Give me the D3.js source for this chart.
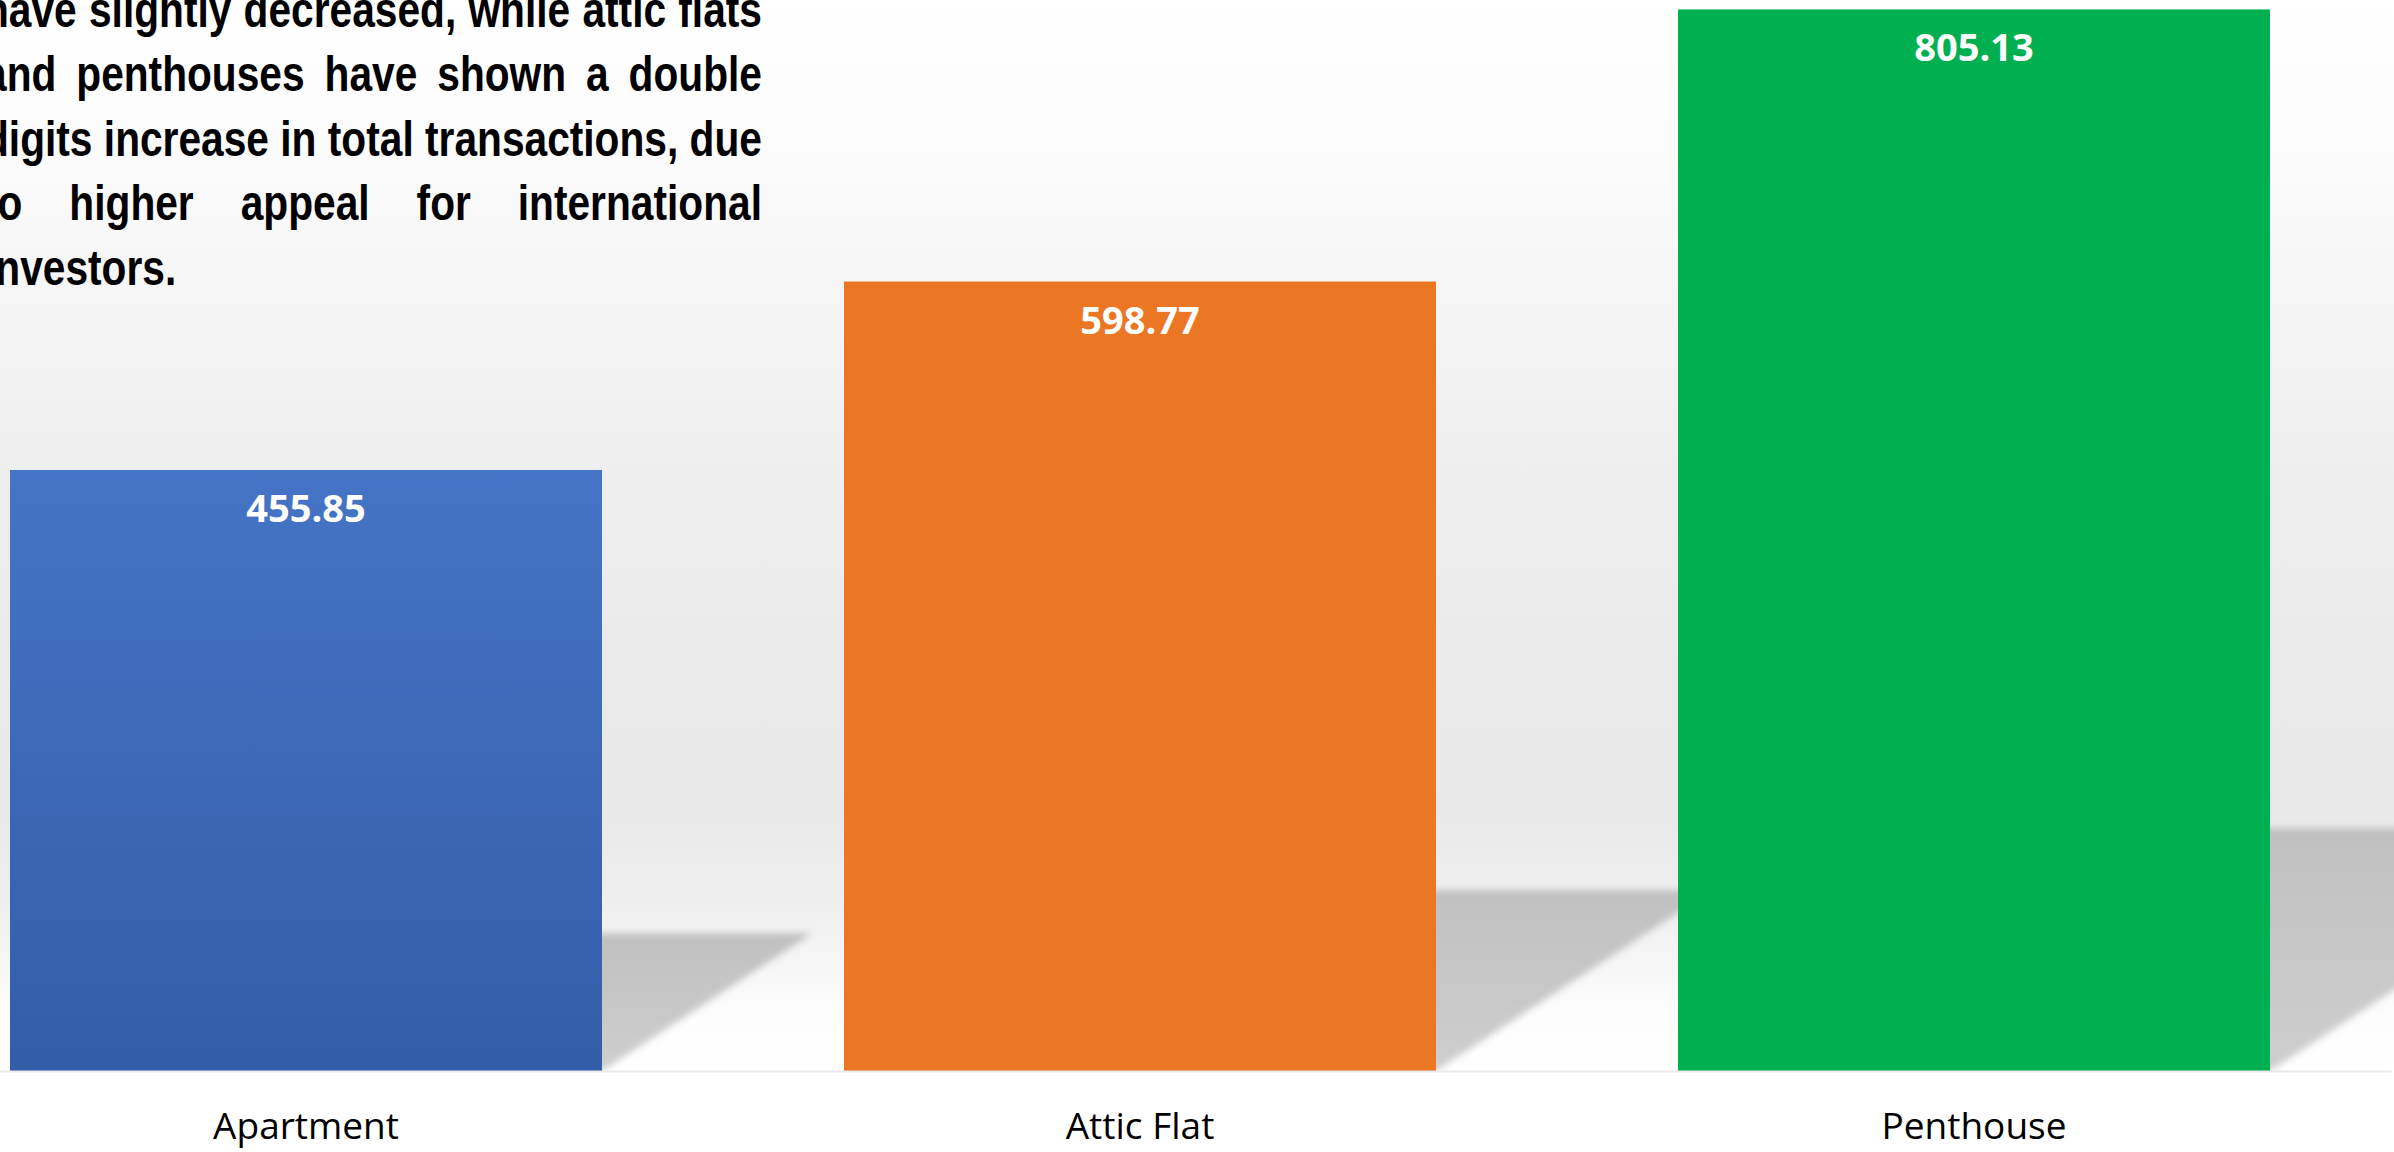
<!DOCTYPE html>
<html>
<head>
<meta charset="utf-8">
<script src="https://cdn.jsdelivr.net/npm/d3@7"></script>
<style>
  html, body { margin: 0; padding: 0; background: #ffffff; overflow: hidden; }
  svg { display: block; }
</style>
</head>
<body>
<svg id="chart" width="2394" height="1152"></svg>
<script>
// Transaction totals by property type
const categories = ["Apartment", "Attic Flat", "Penthouse"];
const values = [455.85, 598.77, 805.13];
const barColors = ["#4472C4", "#EB7623", "#00B050"];

// Commentary paragraph, one entry per printed line
const noteLines = [
  "have slightly decreased, while attic flats",
  "and penthouses have shown a double",
  "digits increase in total transactions, due",
  "to higher appeal for international",
  "investors."
];

const W = 2394, H = 1152;
const floorY = 1071;

const svg = d3.select("#chart");
const defs = svg.append("defs");

// Wall backdrop: white at the top, soft grey in the middle, fading out toward the floor
const wall = defs.append("linearGradient")
  .attr("id", "wall").attr("gradientUnits", "userSpaceOnUse")
  .attr("x1", 0).attr("y1", 0).attr("x2", 0).attr("y2", floorY);
[[0, "#ffffff"], [0.12, "#fcfcfc"], [0.28, "#f5f5f5"], [0.42, "#efefef"],
 [0.6, "#eaeaea"], [0.76, "#e9e9e9"], [0.84, "#eeeeee"], [0.9, "#f6f6f6"],
 [0.95, "#fdfdfd"], [1, "#ffffff"]]
  .forEach(([o, c]) => wall.append("stop").attr("offset", o).attr("stop-color", c));

// Blue bar fades slightly darker toward its base
const blueGrad = defs.append("linearGradient")
  .attr("id", "barGrad0").attr("x1", 0).attr("y1", 0).attr("x2", 0).attr("y2", 1);
blueGrad.append("stop").attr("offset", 0).attr("stop-color", "#4574C6");
blueGrad.append("stop").attr("offset", 1).attr("stop-color", "#335DA8");

const shadowGrad = defs.append("linearGradient")
  .attr("id", "shadowGrad").attr("x1", 0).attr("y1", 0).attr("x2", 0).attr("y2", 1);
shadowGrad.append("stop").attr("offset", 0).attr("stop-color", "#c0c0c0");
shadowGrad.append("stop").attr("offset", 1).attr("stop-color", "#cecece");

defs.append("filter").attr("id", "soft")
  .attr("x", "-20%").attr("y", "-20%").attr("width", "140%").attr("height", "140%")
  .append("feGaussianBlur").attr("stdDeviation", 3.5);

defs.append("clipPath").attr("id", "aboveFloor")
  .append("rect").attr("x", 0).attr("y", 0).attr("width", W).attr("height", floorY + 1);

svg.append("rect").attr("width", W).attr("height", H).attr("fill", "#ffffff");
svg.append("rect").attr("width", W).attr("height", floorY).attr("fill", "url(#wall)");

// Scales
const x = d3.scaleBand()
  .domain(categories)
  .range([-111, 2391])
  .paddingInner(0.2902)
  .paddingOuter(0.1451);

const y = d3.scaleLinear()
  .domain([0, 812.3])
  .range([floorY, 0]);

const data = categories.map((c, i) => ({ cat: c, value: values[i], color: barColors[i], i }));

// Perspective floor shadows cast to the right of each bar
const shadowLayer = svg.append("g").attr("clip-path", "url(#aboveFloor)");
shadowLayer.selectAll("path.shadow")
  .data(data)
  .join("path")
  .attr("class", "shadow")
  .attr("fill", "url(#shadowGrad)")
  .attr("filter", "url(#soft)")
  .attr("d", d => {
    const x0 = x(d.cat), x1 = x(d.cat) + x.bandwidth();
    const h = y(0) - y(d.value);
    const dy = 0.229 * h, dx = 0.35 * h;
    return `M${x0},${y(0)}L${x1},${y(0)}L${x1 + dx},${y(0) - dy}L${x0 + dx},${y(0) - dy}Z`;
  });

// Bars
svg.append("g").selectAll("rect.bar")
  .data(data)
  .join("rect")
  .attr("class", "bar")
  .attr("x", d => x(d.cat))
  .attr("y", d => y(d.value))
  .attr("width", x.bandwidth())
  .attr("height", d => y(0) - y(d.value))
  .attr("fill", d => d.i === 0 ? "url(#barGrad0)" : d.color);

// Value labels inside the top of each bar
svg.append("g").selectAll("text.value")
  .data(data)
  .join("text")
  .attr("class", "value")
  .attr("x", d => x(d.cat) + x.bandwidth() / 2)
  .attr("y", d => y(d.value) + 52)
  .attr("text-anchor", "middle")
  .attr("fill", "#ffffff")
  .attr("font-family", "'Open Sans', 'Noto Sans', sans-serif")
  .attr("font-weight", 700)
  .attr("font-size", 38)
  .text(d => d.value.toFixed(2));

// Category axis along the floor
const axis = svg.append("g")
  .attr("transform", `translate(0,${floorY})`)
  .call(d3.axisBottom(x).tickSize(0));
axis.select(".domain").attr("stroke", "#eaeaea").attr("stroke-width", 2);
axis.selectAll(".tick text")
  .attr("y", 68).attr("dy", 0)
  .attr("fill", "#000000")
  .attr("font-family", "'Open Sans', 'Noto Sans', sans-serif")
  .attr("font-size", 37);

// Justified commentary block in the top-left corner
const noteLeft = -16, noteRight = 762, noteTop = 27, noteLead = 64.5;
const noteFont = "'Liberation Sans Narrow', 'Arial Narrow', 'Liberation Sans', sans-serif";
const note = svg.append("g");

const probe = svg.append("text")
  .attr("font-family", noteFont).attr("font-weight", 700).attr("font-size", 50);
const measure = s => { probe.text(s); return probe.node().getComputedTextLength(); };
const spaceW = measure("a a") - measure("aa");

const lineWords = noteLines.map(l => l.split(" "));
const wordWidths = lineWords.map(ws => ws.map(measure));
probe.remove();

const target = noteRight - noteLeft;
const natural = wordWidths.map((ws, i) => d3.sum(ws) + spaceW * (ws.length - 1));
const sx = d3.min(natural.slice(0, -1), n => target / n);

const textGroup = note.append("g").attr("transform", `scale(${sx},1)`);
lineWords.forEach((ws, li) => {
  const widths = wordWidths[li];
  const last = li === lineWords.length - 1;
  const gap = last ? spaceW : (target / sx - d3.sum(widths)) / (ws.length - 1);
  let cx = noteLeft / sx;
  ws.forEach((w, wi) => {
    textGroup.append("text")
      .attr("x", cx)
      .attr("y", noteTop + li * noteLead)
      .attr("font-family", noteFont)
      .attr("font-weight", 700)
      .attr("font-size", 50)
      .attr("fill", "#000000")
      .text(w);
    cx += widths[wi] + gap;
  });
});
</script>
</body>
</html>
